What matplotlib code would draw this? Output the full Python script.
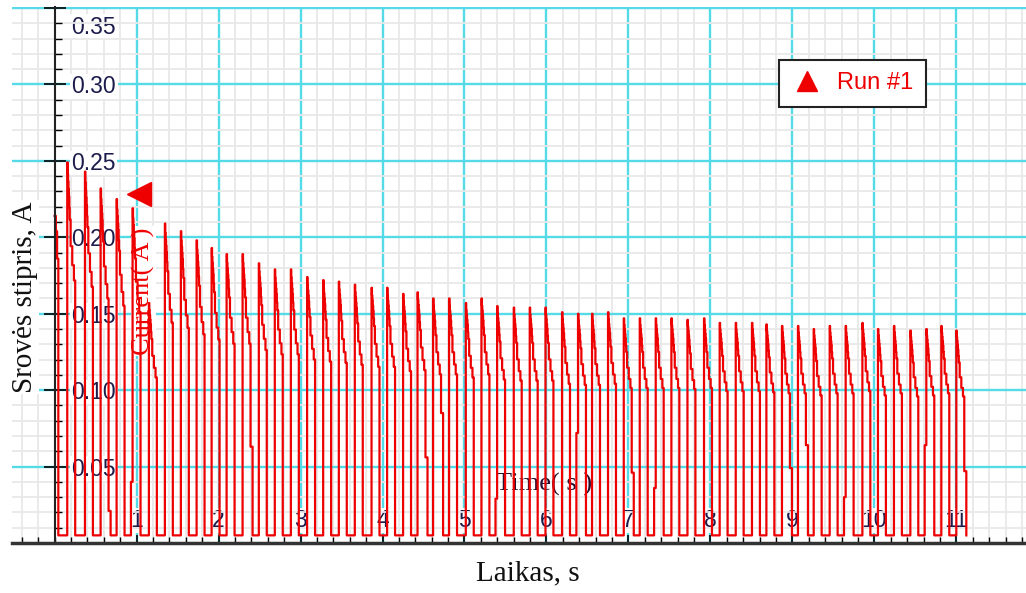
import matplotlib
matplotlib.use('Agg')
import matplotlib.pyplot as plt
from matplotlib.lines import Line2D
from matplotlib.ticker import FixedLocator, MultipleLocator
from matplotlib.transforms import ScaledTranslation

# pulse onsets (s) and peak current of each pulse (A)
onsets = [0.154, 0.370, 0.561, 0.756, 0.951, 1.150, 1.345, 1.540, 1.732, 1.915,
          2.098, 2.293, 2.491, 2.686, 2.882, 3.080, 3.276, 3.467, 3.662, 3.866,
          4.056, 4.251, 4.427, 4.617, 4.812, 5.016, 5.207, 5.398, 5.601, 5.796,
          5.988, 6.190, 6.385, 6.556, 6.751, 6.943, 7.138, 7.333, 7.524, 7.720,
          7.922, 8.113, 8.309, 8.507, 8.683, 8.873, 9.068, 9.260, 9.455, 9.650,
          9.854, 10.044, 10.239, 10.439, 10.634, 10.817, 11.000]
peaks = [0.249, 0.243, 0.232, 0.225, 0.219, 0.157, 0.209, 0.204, 0.198, 0.193,
         0.189, 0.189, 0.183, 0.179, 0.179, 0.174, 0.172, 0.171, 0.169, 0.167,
         0.167, 0.163, 0.164, 0.160, 0.160, 0.157, 0.160, 0.155, 0.154, 0.154,
         0.154, 0.151, 0.150, 0.150, 0.151, 0.147, 0.147, 0.147, 0.147, 0.146,
         0.147, 0.144, 0.144, 0.144, 0.143, 0.142, 0.142, 0.140, 0.142, 0.142,
         0.144, 0.140, 0.142, 0.139, 0.140, 0.142, 0.139]

# staircase after each onset: offset (s) and fraction of the peak
step_dt = [0.0, 0.005, 0.010, 0.015, 0.020, 0.025, 0.030, 0.041, 0.061, 0.081]
step_frac = [1.0, 0.97, 0.95, 0.93, 0.91, 0.88, 0.85, 0.78, 0.73, 0.69]
fall_dt = 0.097
baseline = 0.005

# short intermediate levels after a fall / before a rise (pulse number -> A)
tails = {3: 0.021, 12: 0.063, 23: 0.056, 24: 0.085, 36: 0.046, 46: 0.049, 47: 0.064, 57: 0.047}
presteps = {5: 0.040, 28: 0.029, 33: 0.072, 38: 0.036, 50: 0.030, 55: 0.064}

# recording starts in the middle of a pulse
lead_t = [0.0, 0.015, 0.030]
lead_v = [0.214, 0.204, 0.186]
lead_fall = 0.045

x_ticks = list(range(1, 12))
y_ticks = [0.05, 0.10, 0.15, 0.20, 0.25, 0.30, 0.35]

red = '#ee0000'
tick_col = '#1c1c4c'

t = list(lead_t)
v = list(lead_v)
t.append(lead_fall)
v.append(baseline)
for n, (t0, p) in enumerate(zip(onsets, peaks), start=1):
    if n in presteps:
        t.append(t0 - 0.02)
        v.append(presteps[n])
    for dt, f in zip(step_dt, step_frac):
        t.append(t0 + dt)
        v.append(p * f)
    tf = t0 + fall_dt
    if n in tails:
        t.append(tf)
        v.append(tails[n])
        tf += 0.025
    t.append(tf)
    v.append(baseline)

fig = plt.figure(figsize=(10.26, 5.93), dpi=100)
ax = fig.add_axes([12 / 1026, 50 / 593, 1014 / 1026, 536.5 / 593])
ax.set_xlim(-0.52, 11.85)
ax.set_ylim(0, 0.351)

ax.plot(t, v, drawstyle='steps-post', color=red, lw=1.6, zorder=2)

# grid
ax.xaxis.set_major_locator(FixedLocator(x_ticks))
ax.xaxis.set_minor_locator(MultipleLocator(0.2))
ax.yaxis.set_major_locator(FixedLocator(y_ticks))
ax.yaxis.set_minor_locator(MultipleLocator(0.01))
ax.set_axisbelow(True)
ax.grid(which='minor', color='#e8e8e8', lw=1.3)
ax.grid(which='major', color='#55dbe8', lw=1.7)

# axes lines through the origin
for s in ['top', 'right']:
    ax.spines[s].set_visible(False)
ax.spines['left'].set_position(('data', 0))
ax.spines['left'].set_color('#222222')
ax.spines['left'].set_linewidth(1.5)
ax.spines['bottom'].set_color('#333333')
ax.spines['bottom'].set_linewidth(2.5)

ax.tick_params(axis='y', which='major', direction='inout', length=16, width=1.2,
               pad=-20.2, labelsize=16.5, labelcolor=tick_col)
ax.tick_params(axis='y', which='minor', direction='in', length=5, width=1)
ax.tick_params(axis='x', which='major', direction='in', length=6, width=1.2,
               pad=-8, labelsize=16.5, labelcolor=tick_col)
ax.tick_params(axis='x', which='minor', direction='in', length=4, width=1)
ax.set_yticklabels(['%.2f' % y for y in y_ticks])
ax.set_xticklabels([str(x) for x in x_ticks])
for lbl in ax.get_yticklabels():
    lbl.set_ha('left')
    lbl.set_family('Liberation Sans')
    lbl.set_bbox(dict(fc='white', ec='none', pad=1))
# top label is pushed down inside the frame
top_lbl = ax.get_yticklabels()[-1]
top_lbl.set_transform(top_lbl.get_transform() +
                      ScaledTranslation(0, -0.165, fig.dpi_scale_trans))
for lbl in ax.get_xticklabels():
    lbl.set_va('bottom')
    lbl.set_family('Liberation Sans')
    lbl.set_bbox(dict(fc='white', ec='none', pad=1))

# sensor labels inside the plot
ax.text(0.1297, 0.4697, 'Current( A )', transform=ax.transAxes, rotation=90,
        ha='center', va='center', color=red, family='Liberation Serif', size=19,
        bbox=dict(fc='white', ec='none', pad=1), zorder=1.5)
ax.plot([0.1248], [0.6496], marker='<', ms=17, color=red, ls='none',
        transform=ax.transAxes, clip_on=False, zorder=3)
ax.text(0.525, 0.110, 'Time( s )', transform=ax.transAxes, ha='center', va='center',
        color='#2a1030', family='Liberation Serif', size=19, zorder=1.5)

# axis titles
ax.text(0.0128, 0.4585, 'Srovės stipris, A', transform=ax.transAxes, rotation=90,
        ha='center', va='center', family='Liberation Serif', size=21, color='#111111',
        bbox=dict(fc='white', ec='none', pad=1), zorder=1.5)
fig.text(527.5 / 1026, 1 - 573 / 593, 'Laikas, s', ha='center', va='center',
         family='Liberation Serif', size=21, color='#111111')

# run legend
run = Line2D([], [], ls='none', marker='^', ms=15, color=red)
leg = ax.legend([run], ['Run #1'], loc='center', bbox_to_anchor=(0.829, 0.8565),
                frameon=True, fancybox=False, edgecolor='#222222', framealpha=1,
                prop={'family': 'Liberation Sans', 'size': 17}, labelcolor=red,
                handlelength=1.3, handletextpad=0.6, borderpad=0.55)
leg.get_frame().set_linewidth(1.5)

fig.savefig('out.png', dpi=100)
